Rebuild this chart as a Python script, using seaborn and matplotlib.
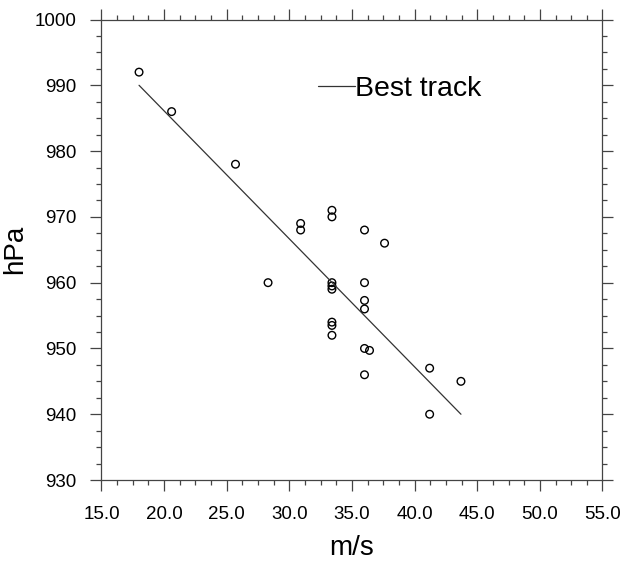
# Scatter of minimum pressure against max wind, with the best track fit line.
import matplotlib
matplotlib.use('Agg')
import matplotlib.pyplot as plt
import matplotlib.ticker as mticker
import pandas as pd
import seaborn as sns

# observations (m/s, hPa)
wind = [18.0, 20.6, 25.7, 28.3, 30.9, 30.9,
        33.4, 33.4, 33.4, 33.4, 33.4, 33.4, 33.4, 33.4,
        36.0, 36.0, 36.0, 36.0, 36.0, 36.0, 36.4, 37.6,
        41.2, 41.2, 43.7]
pres = [992, 986, 978, 960, 969, 968,
        971, 970, 960, 959.5, 959, 954, 953.5, 952,
        968, 960, 957.3, 956, 950, 946, 949.7, 966,
        947, 940, 945]

# best track line, read at its two ends
fit_wind = [18.0, 43.7]
fit_pres = [990.0, 940.0]

x_ticks = [15, 20, 25, 30, 35, 40, 45, 50, 55]
y_ticks = [930, 940, 950, 960, 970, 980, 990, 1000]

df = pd.DataFrame({'wind': wind, 'pres': pres})
df_fit = pd.DataFrame({'wind': fit_wind, 'pres': fit_pres})

sns.set_style('ticks')
plt.rcParams['font.family'] = ['Liberation Sans', 'DejaVu Sans']
plt.rcParams['text.color'] = 'black'
plt.rcParams['axes.labelcolor'] = 'black'
plt.rcParams['xtick.labelcolor'] = 'black'
plt.rcParams['ytick.labelcolor'] = 'black'

fig = plt.figure(figsize=(6.21, 5.67), dpi=100)
ax = fig.add_axes([0.1634, 0.1534, 0.8068, 0.8122])

sns.scatterplot(data=df, x='wind', y='pres', ax=ax, marker='o',
                facecolors='none', edgecolor='black', s=30, linewidth=1.0,
                legend=False)
sns.lineplot(data=df_fit, x='wind', y='pres', ax=ax, color='#333333',
             linewidth=0.9, label='Best track')

ax.set_xlim(15, 55)
ax.set_ylim(930, 1000)
ax.set_xticks(x_ticks)
ax.set_yticks(y_ticks)
ax.xaxis.set_major_formatter(mticker.FormatStrFormatter('%.1f'))
ax.xaxis.set_minor_locator(mticker.AutoMinorLocator(4))
ax.yaxis.set_minor_locator(mticker.AutoMinorLocator(4))

# ticks on all four sides, pointing out
ax.tick_params(which='both', direction='out', top=True, right=True,
               color='#444444', width=0.9)
ax.tick_params(which='major', length=8, labelsize=13.5)
ax.tick_params(which='minor', length=3.5)
ax.tick_params(axis='x', labeltop=False, pad=11)
ax.tick_params(axis='y', labelright=False, pad=10)
for side in ['left', 'right', 'top', 'bottom']:
    ax.spines[side].set_visible(True)
    ax.spines[side].set_color('#444444')
    ax.spines[side].set_linewidth(0.9)

ax.set_xlabel('m/s', fontsize=20, labelpad=8)
ax.set_ylabel('hPa', fontsize=20, labelpad=5)

ax.legend(loc='center left', bbox_to_anchor=(0.432, 0.85), frameon=False,
          fontsize=20.5, handlelength=1.3, handletextpad=0.0,
          borderpad=0, borderaxespad=0)

fig.savefig('out.png', dpi=100)
